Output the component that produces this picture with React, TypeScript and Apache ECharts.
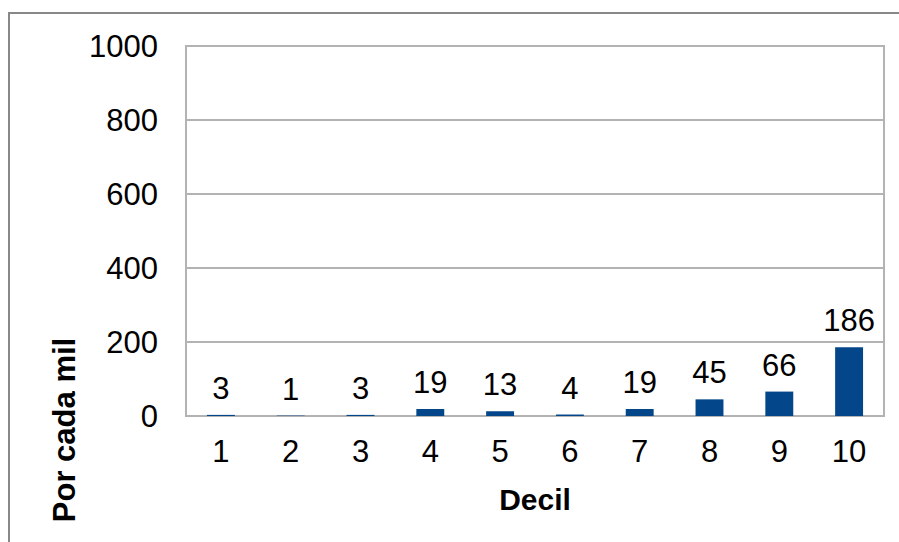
import React, { useEffect, useRef } from "react";
import * as echarts from "echarts";

const categories = ["1", "2", "3", "4", "5", "6", "7", "8", "9", "10"];
const values = [3, 1, 3, 19, 13, 4, 19, 45, 66, 186];
const yMin = 0;
const yMax = 1000;
const yInterval = 200;
const xName = "Decil";
const yName = "Por cada mil";

export default function App() {
  const ref = useRef<HTMLDivElement>(null);
  useEffect(() => {
    if (!ref.current) return;
    const chart = echarts.init(ref.current, null, { renderer: "svg" });
    const font = "'Liberation Sans', Arial, sans-serif";
    chart.setOption({
      animation: false,
      backgroundColor: "#ffffff",
      grid: {
        left: 186,
        right: 15,
        top: 46,
        bottom: 126,
        show: true,
        borderColor: "#b3b3b3",
        borderWidth: 2,
      },
      xAxis: {
        type: "category",
        data: categories,
        name: xName,
        nameLocation: "middle",
        nameGap: 68,
        nameTextStyle: { fontFamily: font, fontSize: 30, fontWeight: "bold", color: "#000" },
        axisLine: { lineStyle: { color: "#b3b3b3", width: 2 } },
        axisTick: { show: false },
        axisLabel: { fontFamily: font, fontSize: 31, color: "#000", margin: 20 },
      },
      yAxis: {
        type: "value",
        min: yMin,
        max: yMax,
        interval: yInterval,
        axisLine: { show: true, lineStyle: { color: "#b3b3b3", width: 2 } },
        axisTick: { show: false },
        splitLine: { lineStyle: { color: "#b3b3b3", width: 2 } },
        axisLabel: {
          fontFamily: font,
          fontSize: 31,
          color: "#000",
          margin: 28,
          formatter: (v: number) => String(v),
        },
      },
      graphic: [
        {
          type: "rect",
          shape: { x: 9, y: 13, width: 1000, height: 1000 },
          style: { fill: "none", stroke: "#888888", lineWidth: 2 },
          silent: true,
        },
        {
          type: "text",
          x: 64,
          y: 430,
          rotation: Math.PI / 2,
          style: {
            text: yName,
            fontFamily: font,
            fontSize: 31,
            fontWeight: "bold",
            fill: "#000",
            align: "center",
            verticalAlign: "middle",
          },
        },
      ],
      series: [
        {
          type: "bar",
          data: values,
          barWidth: "40%",
          itemStyle: { color: "#03468a" },
          label: {
            show: true,
            position: "top",
            distance: 11,
            fontFamily: font,
            fontSize: 31,
            color: "#000",
          },
        },
      ],
    });
    return () => chart.dispose();
  }, []);
  return (
    <div
      ref={ref}
      style={{ position: "fixed", left: 0, top: 0, width: 899, height: 542 }}
    />
  );
}
